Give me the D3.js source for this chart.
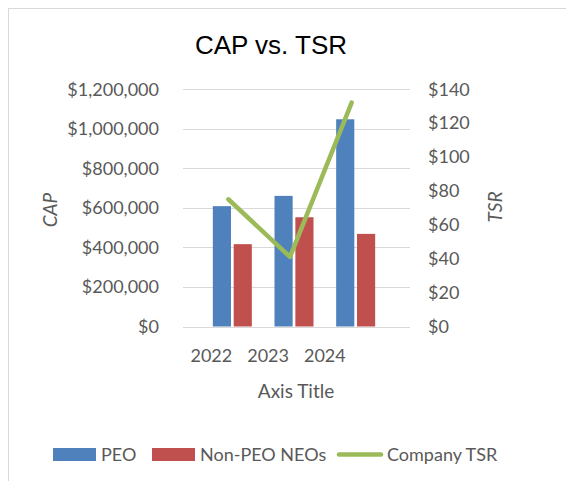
<!DOCTYPE html>
<html>
<head>
<meta charset="utf-8">
<script src="https://cdn.jsdelivr.net/npm/d3@7"></script>
<style>
  body { margin: 0; background: #fff; }
  text { font-family: Lato, "Open Sans", sans-serif; fill: #595959; }
</style>
</head>
<body>
<div id="chart"></div>
<script>
const years = ["2022", "2023", "2024"]
const slots = ["2022", "2023", "2024", ""]   // the category axis has an empty 4th slot
const peo = [608000, 660000, 1047000]
const nonPeo = [416000, 552000, 468000]
const tsr = [75, 41, 132]
const capTicks = [0, 200000, 400000, 600000, 800000, 1000000, 1200000]
const tsrTicks = [0, 20, 40, 60, 80, 100, 120, 140]
const seriesNames = ["PEO", "Non-PEO NEOs", "Company TSR"]
const colors = ["#4F81BD", "#C0504D", "#9BBB59"]

const W = 566, H = 481
const plot = {left: 183, right: 410, top: 89, bottom: 326.5}

const svg = d3.select("#chart").append("svg")
  .attr("width", W).attr("height", H)

// chart border
svg.append("rect")
  .attr("x", 8.5).attr("y", 8.5)
  .attr("width", W).attr("height", H)
  .attr("fill", "#fff").attr("stroke", "#D9D9D9")

svg.append("text")
  .attr("x", 271).attr("y", 54)
  .attr("text-anchor", "middle")
  .style("font-family", "'Liberation Sans', Arial, sans-serif")
  .style("font-size", "26px").style("fill", "#000")
  .text("CAP vs. TSR")

const yLeft = d3.scaleLinear().domain([0, 1200000]).range([plot.bottom, plot.top])
const yRight = d3.scaleLinear().domain([0, 140]).range([plot.bottom, plot.top])
const xAxisScale = d3.scaleBand().domain(slots).range([plot.left, plot.right])
const xBars = d3.scaleBand().domain(years).range([198, 383]).paddingInner(0).paddingOuter(0)
const xInner = d3.scaleBand().domain([0, 1]).range([-16, 23]).paddingInner(0.13)

// gridlines
svg.append("g").selectAll("line").data(capTicks).join("line")
  .attr("x1", plot.left).attr("x2", plot.right)
  .attr("y1", d => Math.round(yLeft(d)) + 0.5).attr("y2", d => Math.round(yLeft(d)) + 0.5)
  .attr("stroke", "#D9D9D9").attr("stroke-width", 1)

const fmtCap = d => "$" + d3.format(",")(d)
svg.append("g").selectAll("text").data(capTicks).join("text")
  .attr("x", 159).attr("y", d => yLeft(d) + 6.5)
  .attr("text-anchor", "end").style("font-size", "18px")
  .text(fmtCap)

svg.append("g").selectAll("text").data(tsrTicks).join("text")
  .attr("x", 428).attr("y", d => yRight(d) + 6.5)
  .style("font-size", "18px")
  .text(d => "$" + d)

// bars
const g = svg.append("g")
g.selectAll(".peo").data(peo).join("rect")
  .attr("x", (d, i) => xBars(years[i]) + xBars.bandwidth() / 2 + xInner(0))
  .attr("width", xInner.bandwidth())
  .attr("y", d => yLeft(d)).attr("height", d => yLeft(0) - yLeft(d))
  .attr("fill", colors[0])
g.selectAll(".non").data(nonPeo).join("rect")
  .attr("x", (d, i) => xBars(years[i]) + xBars.bandwidth() / 2 + xInner(1))
  .attr("width", xInner.bandwidth())
  .attr("y", d => yLeft(d)).attr("height", d => yLeft(0) - yLeft(d))
  .attr("fill", colors[1])

const line = d3.line()
  .x((d, i) => xBars(years[i]) + xBars.bandwidth() / 2 - 0.5)
  .y(d => yRight(d))
svg.append("path").datum(tsr)
  .attr("d", line).attr("fill", "none")
  .attr("stroke", colors[2]).attr("stroke-width", 4.5)
  .attr("stroke-linecap", "round").attr("stroke-linejoin", "round")

// category labels
svg.append("g").selectAll("text").data(years).join("text")
  .attr("x", d => xAxisScale(d) + xAxisScale.bandwidth() / 2)
  .attr("y", 362)
  .attr("text-anchor", "middle").style("font-size", "18px")
  .text(d => d)

svg.append("text").attr("x", 296).attr("y", 398)
  .attr("text-anchor", "middle").style("font-size", "19px")
  .text("Axis Title")

svg.append("text")
  .attr("transform", "translate(57,210) rotate(-90)")
  .attr("text-anchor", "middle").style("font-size", "19px").style("font-style", "italic")
  .text("CAP")
svg.append("text")
  .attr("transform", "translate(502,207) rotate(-90)")
  .attr("text-anchor", "middle").style("font-size", "19px").style("font-style", "italic")
  .text("TSR")

// legend
const legendX = [53, 152, 337]
const leg = svg.append("g").selectAll("g").data(seriesNames).join("g")
  .attr("transform", (d, i) => `translate(${legendX[i]},454)`)
leg.each(function(d, i) {
  const s = d3.select(this)
  if (i < 2) {
    s.append("rect").attr("x", 0).attr("y", -6).attr("width", 43).attr("height", 13).attr("fill", colors[i])
  } else {
    s.append("line").attr("x1", 2).attr("x2", 44).attr("y1", 0.5).attr("y2", 0.5)
      .attr("stroke", colors[2]).attr("stroke-width", 4.5).attr("stroke-linecap", "round")
  }
  s.append("text").attr("x", i < 2 ? 48 : 50).attr("y", 6.5).style("font-size", "18px").text(d)
})
</script>
</body>
</html>
